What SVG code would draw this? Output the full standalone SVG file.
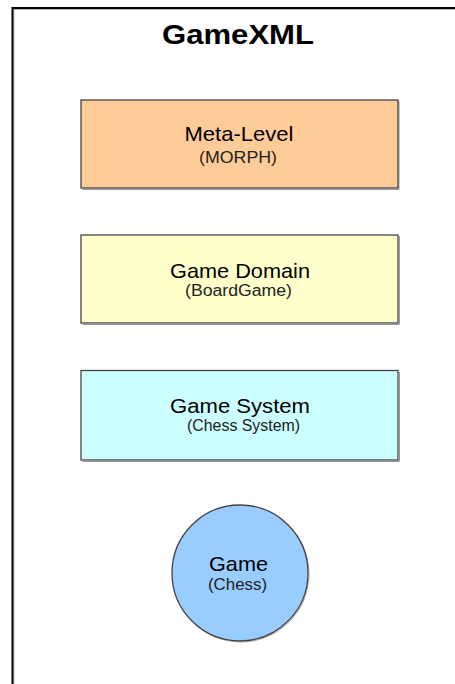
<svg xmlns="http://www.w3.org/2000/svg" width="455" height="684" viewBox="0 0 455 684">
<style>
.t{font-family:"Liberation Sans",Arial,sans-serif;fill:#000;text-anchor:middle}
.main{font-size:21px}
.sub{font-size:16px;fill:#222}
.box{stroke:#444;stroke-width:1.3}
.sh{fill:none;stroke:#999;stroke-width:1}
</style>
<rect width="455" height="684" fill="#fff"/>
<g id="frame">
<path d="M14 700 V9.5 H470" fill="none" stroke="#bbb" stroke-width="1"/>
<path d="M12.5 700 V8 H470" fill="none" stroke="#000" stroke-width="2"/>
</g>
<text class="t" x="238" y="44" font-size="28" font-weight="bold" textLength="152" lengthAdjust="spacingAndGlyphs">GameXML</text>
<g id="connectors"></g>
<g id="meta-level">
<path class="sh" d="M82.5 189.5 H399 V101"/>
<rect class="box" x="81" y="100" width="317" height="88" fill="#ffcc99"/>
<text class="t main" x="239" y="141" textLength="109" lengthAdjust="spacingAndGlyphs">Meta-Level</text>
<text class="t sub" x="238" y="163" textLength="78" lengthAdjust="spacingAndGlyphs">(MORPH)</text>
</g>
<g id="game-domain">
<path class="sh" d="M82.5 324.5 H399.5 V236"/>
<rect class="box" x="81" y="235" width="317" height="88" fill="#ffffcc"/>
<text class="t main" x="240" y="278" textLength="140" lengthAdjust="spacingAndGlyphs">Game Domain</text>
<text class="t sub" x="238.5" y="296" textLength="107" lengthAdjust="spacingAndGlyphs">(BoardGame)</text>
</g>
<g id="game-system">
<path class="sh" d="M82.5 461.5 H399.5 V372"/>
<rect class="box" x="81" y="370.5" width="317" height="89.5" fill="#ccffff"/>
<text class="t main" x="240" y="413" textLength="140" lengthAdjust="spacingAndGlyphs">Game System</text>
<text class="t sub" x="243.5" y="431" textLength="113" lengthAdjust="spacingAndGlyphs">(Chess System)</text>
</g>
<g id="game">
<circle cx="241" cy="574" r="68" fill="none" stroke="#aaa" stroke-width="1"/>
<circle cx="240" cy="573" r="68" fill="#99ccff" stroke="#444" stroke-width="1.3"/>
<text class="t main" x="238.5" y="571" textLength="59" lengthAdjust="spacingAndGlyphs">Game</text>
<text class="t sub" x="237.5" y="590" textLength="59" lengthAdjust="spacingAndGlyphs">(Chess)</text>
</g>
</svg>
